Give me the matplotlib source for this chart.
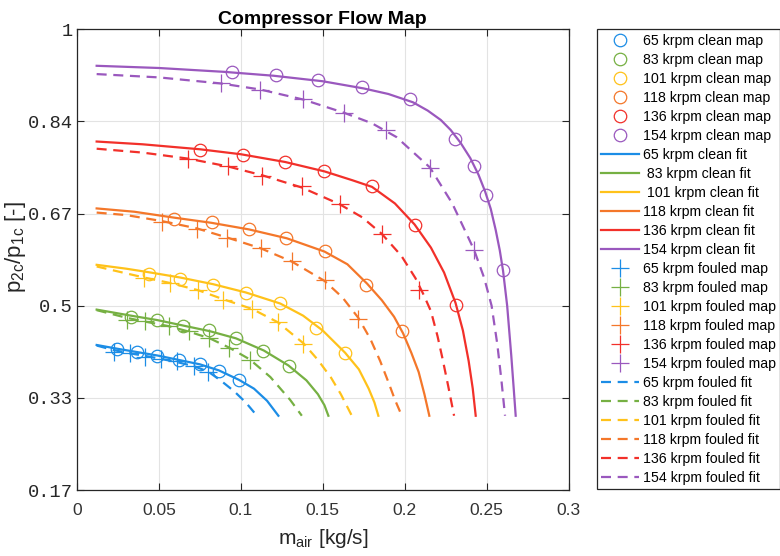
import matplotlib
matplotlib.use("Agg")
import matplotlib.pyplot as plt

speeds = ["65", "83", "101", "118", "136", "154"]
colors = ["#1C8DE6", "#76B043", "#FFC21A", "#F4772A", "#F2302A", "#9A58BE"]

# measured map points (mass flow kg/s, pressure ratio)
clean_x = [
    [0.0246, 0.0368, 0.0488, 0.0622, 0.0749, 0.0866, 0.0988],
    [0.0331, 0.0491, 0.0646, 0.0807, 0.0971, 0.1138, 0.1293],
    [0.0437, 0.0630, 0.0829, 0.1030, 0.1237, 0.1458, 0.1636],
    [0.0595, 0.0823, 0.1052, 0.1278, 0.1511, 0.1766, 0.1982],
    [0.0752, 0.1012, 0.1268, 0.1508, 0.1799, 0.2061, 0.2313],
    [0.0945, 0.1213, 0.1471, 0.1738, 0.2032, 0.2307, 0.2424, 0.2494, 0.2598],
]
clean_y = [
    [0.4214, 0.4154, 0.4094, 0.4024, 0.3949, 0.3828, 0.3659],
    [0.4793, 0.4734, 0.4630, 0.4553, 0.4420, 0.4172, 0.3918],
    [0.5567, 0.5489, 0.5380, 0.5228, 0.5042, 0.4601, 0.4149],
    [0.6576, 0.6514, 0.6388, 0.6228, 0.5987, 0.5373, 0.4534],
    [0.7819, 0.7728, 0.7591, 0.7438, 0.7167, 0.6455, 0.5005],
    [0.9226, 0.9165, 0.9087, 0.8949, 0.8732, 0.8013, 0.7536, 0.6998, 0.5639],
]
fouled_x = [
    [0.0223, 0.0321, 0.0416, 0.0512, 0.0610, 0.0711, 0.0802],
    [0.0305, 0.0416, 0.0559, 0.0685, 0.0807, 0.0930, 0.1054],
    [0.0406, 0.0569, 0.0738, 0.0894, 0.1067, 0.1226, 0.1382],
    [0.0518, 0.0732, 0.0916, 0.1124, 0.1313, 0.1514, 0.1717],
    [0.0680, 0.0923, 0.1132, 0.1372, 0.1604, 0.1859, 0.2089],
    [0.0878, 0.1118, 0.1378, 0.1630, 0.1886, 0.2154, 0.2423],
]
fouled_y = [
    [0.4159, 0.4141, 0.4081, 0.4040, 0.4009, 0.3918, 0.3797],
    [0.4734, 0.4722, 0.4625, 0.4540, 0.4420, 0.4232, 0.4027],
    [0.5500, 0.5417, 0.5290, 0.5109, 0.4946, 0.4697, 0.4312],
    [0.6514, 0.6395, 0.6222, 0.6041, 0.5806, 0.5458, 0.4764],
    [0.7650, 0.7533, 0.7342, 0.7158, 0.6848, 0.6301, 0.5290],
    [0.9022, 0.8900, 0.8732, 0.8489, 0.8176, 0.7500, 0.6014],
]

# fit curves
clean_fit_x = [
    [0.012, 0.025, 0.037, 0.049, 0.062, 0.075, 0.0866, 0.0988, 0.108, 0.116, 0.1229],
    [0.012, 0.033, 0.049, 0.065, 0.081, 0.097, 0.114, 0.129, 0.140, 0.147, 0.151, 0.1534],
    [0.012, 0.030, 0.045, 0.063, 0.083, 0.103, 0.124, 0.138, 0.150, 0.1636, 0.172, 0.178, 0.1815, 0.1839],
    [0.012, 0.035, 0.060, 0.082, 0.105, 0.128, 0.151, 0.165, 0.177, 0.186, 0.1935, 0.199, 0.204, 0.2085, 0.212, 0.215],
    [0.012, 0.040, 0.075, 0.100, 0.127, 0.151, 0.168, 0.180, 0.194, 0.206, 0.216, 0.224, 0.231, 0.2355, 0.239, 0.2415, 0.2433],
    [0.012, 0.050, 0.090, 0.120, 0.150, 0.175, 0.190, 0.205, 0.214, 0.222, 0.228, 0.234, 0.240, 0.245, 0.249,
     0.2525, 0.2555, 0.258, 0.260, 0.2625, 0.2650, 0.2665, 0.2677],
]
clean_fit_y = [
    [0.429, 0.422, 0.416, 0.410, 0.402, 0.394, 0.383, 0.366, 0.350, 0.328, 0.301],
    [0.493, 0.482, 0.474, 0.464, 0.454, 0.441, 0.419, 0.392, 0.365, 0.340, 0.320, 0.301],
    [0.574, 0.567, 0.560, 0.551, 0.539, 0.524, 0.504, 0.482, 0.455, 0.415, 0.385, 0.350, 0.325, 0.301],
    [0.676, 0.670, 0.659, 0.650, 0.638, 0.622, 0.598, 0.575, 0.540, 0.510, 0.480, 0.450, 0.415, 0.380, 0.340, 0.301],
    [0.797, 0.792, 0.783, 0.774, 0.760, 0.743, 0.727, 0.715, 0.685, 0.647, 0.605, 0.560, 0.505, 0.455, 0.400, 0.350, 0.301],
    [0.934, 0.930, 0.923, 0.916, 0.906, 0.893, 0.883, 0.868, 0.853, 0.836, 0.818, 0.795, 0.767, 0.737, 0.707,
     0.675, 0.637, 0.600, 0.563, 0.500, 0.410, 0.350, 0.301],
]
fouled_fit_x = [
    [0.012, 0.022, 0.032, 0.042, 0.051, 0.061, 0.071, 0.080, 0.088, 0.096, 0.103, 0.1098],
    [0.012, 0.0305, 0.042, 0.056, 0.0685, 0.081, 0.093, 0.1054, 0.118, 0.130, 0.1372],
    [0.012, 0.025, 0.041, 0.057, 0.074, 0.089, 0.107, 0.1226, 0.1382, 0.147, 0.155, 0.161, 0.1677],
    [0.012, 0.030, 0.052, 0.073, 0.092, 0.112, 0.131, 0.151, 0.162, 0.1717, 0.179, 0.185, 0.190, 0.194, 0.1982],
    [0.012, 0.040, 0.068, 0.092, 0.113, 0.137, 0.160, 0.174, 0.186, 0.198, 0.2065, 0.2115, 0.2160, 0.2200, 0.2230, 0.2265, 0.2301],
    [0.012, 0.050, 0.088, 0.112, 0.138, 0.163, 0.180, 0.195, 0.2154, 0.229, 0.2423, 0.2485, 0.253, 0.2565, 0.259, 0.2612],
]
fouled_fit_y = [
    [0.428, 0.420, 0.414, 0.409, 0.404, 0.398, 0.391, 0.381, 0.364, 0.345, 0.325, 0.301],
    [0.492, 0.478, 0.471, 0.463, 0.453, 0.441, 0.424, 0.403, 0.371, 0.330, 0.301],
    [0.571, 0.562, 0.551, 0.541, 0.528, 0.512, 0.494, 0.470, 0.432, 0.402, 0.370, 0.340, 0.301],
    [0.6685, 0.664, 0.653, 0.640, 0.623, 0.604, 0.580, 0.545, 0.515, 0.478, 0.440, 0.400, 0.362, 0.330, 0.301],
    [0.784, 0.777, 0.766, 0.752, 0.736, 0.714, 0.684, 0.660, 0.630, 0.590, 0.550, 0.520, 0.490, 0.445, 0.405, 0.355, 0.301],
    [0.919, 0.913, 0.902, 0.891, 0.873, 0.849, 0.830, 0.805, 0.750, 0.685, 0.601, 0.550, 0.500, 0.430, 0.365, 0.301],
]

x_ticks = [0, 0.05, 0.1, 0.15, 0.2, 0.25, 0.3]
x_tick_labels = ["0", "0.05", "0.1", "0.15", "0.2", "0.25", "0.3"]
y_ticks = [1/6, 2/6, 3/6, 4/6, 5/6, 1.0]
y_tick_labels = ["0.17", "0.33", "0.5", "0.67", "0.84", "1"]

plt.rcParams["font.family"] = ["Liberation Sans", "DejaVu Sans"]
fig = plt.figure(figsize=(7.8, 5.56), dpi=100)
ax = fig.add_axes([0.0987, 0.1187, 0.6303, 0.8286])

dash = (0, (4.5, 3))
for i, s in enumerate(speeds):
    ax.plot(clean_x[i], clean_y[i], "o", mfc="none", mec=colors[i], ms=9, mew=0.9,
            label=f"{s} krpm clean map")
for i, s in enumerate(speeds):
    lab = f"{s} krpm clean fit" if s not in ("83", "101") else f" {s} krpm clean fit"
    ax.plot(clean_fit_x[i], clean_fit_y[i], "-", color=colors[i], lw=1.6, label=lab)
for i, s in enumerate(speeds):
    ax.plot(fouled_x[i], fouled_y[i], "+", color=colors[i], ms=13, mew=0.9,
            label=f"{s} krpm fouled map")
for i, s in enumerate(speeds):
    ax.plot(fouled_fit_x[i], fouled_fit_y[i], linestyle=dash, color=colors[i], lw=1.6,
            label=f"{s} krpm fouled fit")

ax.set_xlim(0, 0.3)
ax.set_ylim(1/6, 1.0)
ax.set_xticks(x_ticks)
ax.set_xticklabels(x_tick_labels, fontsize=12.5, color="#333333")
ax.set_yticks(y_ticks)
ax.set_yticklabels(y_tick_labels, fontsize=13.5, family="Liberation Mono", color="#262626")
ax.grid(True, color="#e3e3e3", lw=0.8)
ax.set_axisbelow(True)
ax.tick_params(direction="in", length=5, width=0.8, top=True, right=True, colors="#262626")
ax.tick_params(axis="x", pad=9, labelcolor="#333333")
ax.tick_params(axis="y", pad=3, labelcolor="#262626")
for sp in ax.spines.values():
    sp.set_color("#262626")
    sp.set_linewidth(0.9)

ax.set_title("Compressor Flow Map", fontsize=14, fontweight="bold", pad=4)
ax.set_xlabel("m$_{\\mathregular{air}}$ [kg/s]", fontsize=15, color="#262626", labelpad=7)
ax.set_ylabel("p$_{\\mathregular{2c}}$/p$_{\\mathregular{1c}}$ [-]", fontsize=16, color="#262626")
ax.yaxis.set_label_coords(-0.099, 0.528)

leg = ax.legend(loc="upper left", bbox_to_anchor=(596.7 / 780, 1 - 29.3 / 556),
                bbox_transform=fig.transFigure, fontsize=10.2, frameon=True, fancybox=False,
                edgecolor="#262626", framealpha=1, handlelength=2.7, handletextpad=0.28,
                labelspacing=0.355, borderpad=0.3, borderaxespad=0)
leg.get_frame().set_linewidth(0.9)

fig.savefig("out.png", dpi=100)
